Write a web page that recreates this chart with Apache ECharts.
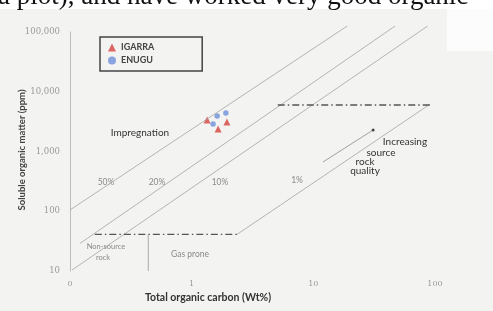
<!DOCTYPE html>
<html>
<head>
<meta charset="utf-8">
<script src="https://cdn.jsdelivr.net/npm/echarts@6/dist/echarts.min.js"></script>
<style>
  html, body { margin: 0; padding: 0; background: #fff; }
  #chart { width: 493px; height: 311px; }
</style>
</head>
<body>
<div id="chart"></div>
<script>
// 刻度
const xTickValues = [0.1, 1, 10, 100];
const xTickLabels = ["0", "1", "10", "100"];
const yTickValues = [10, 100, 1000, 10000, 100000];
const yTickLabels = ["10", "100", "1,000", "10,000", "100,000"];

// 样品点 (TOC wt%, 可溶有机质 ppm)
const igarraToc = [1.34, 1.95, 1.65];
const igarraSom = [3370, 3120, 2380];
const enuguToc = [1.62, 1.91, 1.5];
const enuguSom = [3930, 4410, 2890];

// 分区线
const line50 = [[0.1, 105], [19, 126000]];
const line20 = [[0.121, 29], [47, 126000]];
const line10 = [[0.104, 10.4], [87, 126000]];
const line1 = [[2.36, 41], [91, 6200]];
const upperCut = [[5.1, 6000], [91, 6000]];
const lowerCut = [[0.16, 41], [2.36, 41]];
const gasDivide = [[0.44, 41], [0.44, 10]];
const qualityArrow = [[12, 667], [31, 2290]];

const chart = echarts.init(document.getElementById("chart"));

function zip(xs, ys) {
  return xs.map((x, i) => [x, ys[i]]);
}

function guideLine(data, style) {
  return {
    type: "line",
    data: data,
    showSymbol: false,
    clip: false,
    silent: true,
    lineStyle: Object.assign({ color: "#a3a3a3", width: 0.8 }, style || {}),
  };
}

const dashDot = { color: "#555", width: 1.3, type: [7, 3, 1.5, 3] };
const font = "Lato, 'Liberation Sans', sans-serif";

function txt(x, y, s, size, color, weight) {
  return {
    type: "text",
    x: x,
    y: y,
    style: {
      text: s,
      fontSize: size,
      fontFamily: font,
      fontWeight: weight || "normal",
      fill: color,
      align: "center",
      verticalAlign: "middle",
    },
  };
}

var option = {
  backgroundColor: "#fff",
  animation: false,
  grid: { left: 70, right: 58, top: 32, bottom: 40 },
  legend: {
    orient: "vertical",
    left: 100,
    top: 37,
    padding: [6, 48, 6, 8],
    itemGap: 4,
    itemWidth: 8,
    itemHeight: 8,
    borderColor: "#444",
    borderWidth: 1.5,
    textStyle: { fontSize: 9, fontWeight: "bold", color: "#444", fontFamily: font },
    data: [
      { name: "IGARRA", icon: "triangle" },
      { name: "ENUGU", icon: "circle" },
    ],
  },
  xAxis: {
    type: "log",
    min: 0.1,
    max: 100,
    axisLine: { show: false },
    axisTick: { show: false },
    splitLine: { show: false },
    axisLabel: {
      margin: 9,
      fontSize: 8,
      color: "#9a9a9a",
      fontFamily: "'DejaVu Serif', serif",
      formatter: (v) => {
        const i = xTickValues.findIndex((t) => Math.abs(t - v) < t * 1e-6);
        return i >= 0 ? xTickLabels[i] : "";
      },
    },
  },
  yAxis: {
    type: "log",
    min: 10,
    max: 100000,
    axisLine: { show: true, lineStyle: { color: "#bdbdbd", width: 1 } },
    axisTick: { show: false },
    splitLine: { show: false },
    axisLabel: {
      margin: 10,
      fontSize: 8.5,
      color: "#9a9a9a",
      fontFamily: "'DejaVu Serif', serif",
      formatter: (v) => {
        const i = yTickValues.findIndex((t) => Math.abs(t - v) < t * 1e-6);
        return i >= 0 ? yTickLabels[i] : "";
      },
    },
  },
  series: [
    guideLine(line50),
    guideLine(line20),
    guideLine(line10),
    guideLine(line1),
    guideLine(upperCut, dashDot),
    guideLine(lowerCut, dashDot),
    guideLine(gasDivide, { color: "#999" }),
    Object.assign(guideLine([
      { value: qualityArrow[0], symbol: "none" },
      { value: qualityArrow[1], symbol: "circle", symbolSize: 3 },
    ], { color: "#8a8a8a" }), {
      showSymbol: true,
      itemStyle: { color: "#444" },
    }),
    {
      name: "IGARRA",
      type: "scatter",
      symbol: "triangle",
      symbolSize: 7,
      itemStyle: { color: "#d6423f" },
      data: zip(igarraToc, igarraSom),
    },
    {
      name: "ENUGU",
      type: "scatter",
      symbol: "circle",
      symbolSize: 5.5,
      itemStyle: { color: "#6d8fd8" },
      data: zip(enuguToc, enuguSom),
    },
  ],
  graphic: [
    // 扫描底色
    { type: "rect", z: -10, shape: { x: 0, y: 9, width: 493, height: 302 }, style: { fill: "#f3f3f1" } },
    { type: "rect", z: -9, shape: { x: 447, y: 9, width: 46, height: 42 }, style: { fill: "#fcfcfc" } },
    {
      type: "text", x: -2, y: 10,
      style: { text: "a plot), and have worked very good organic", fontSize: 27, fontFamily: "'Liberation Serif', serif", fill: "#111", verticalAlign: "bottom" },
    },
    txt(140, 133, "Impregnation", 10, "#333"),
    txt(106, 182, "50%", 8.5, "#8a8a8a"),
    txt(157, 182, "20%", 8.5, "#8a8a8a"),
    txt(220, 182, "10%", 8.5, "#8a8a8a"),
    txt(297, 180, "1%", 8.5, "#8a8a8a"),
    txt(106, 247, "Non-source", 7.5, "#8a8a8a"),
    txt(103, 258, "rock", 7.5, "#8a8a8a"),
    txt(190, 254, "Gas prone", 8.5, "#8a8a8a"),
    txt(405, 142, "Increasing", 10, "#333"),
    txt(381, 153, "source", 10, "#333"),
    txt(365, 162, "rock", 10, "#333"),
    txt(365, 171, "quality", 10, "#333"),
    txt(208, 298, "Total organic carbon (Wt%)", 10.5, "#333", "bold"),
    Object.assign(txt(22, 150, "Soluble organic matter (ppm)", 9.5, "#444", "bold"), { rotation: Math.PI / 2 }),
  ],
};

chart.setOption(option);
window.addEventListener("resize", () => {
  if (null != chart) {
    chart.resize();
  }
});
</script>
</body>
</html>
